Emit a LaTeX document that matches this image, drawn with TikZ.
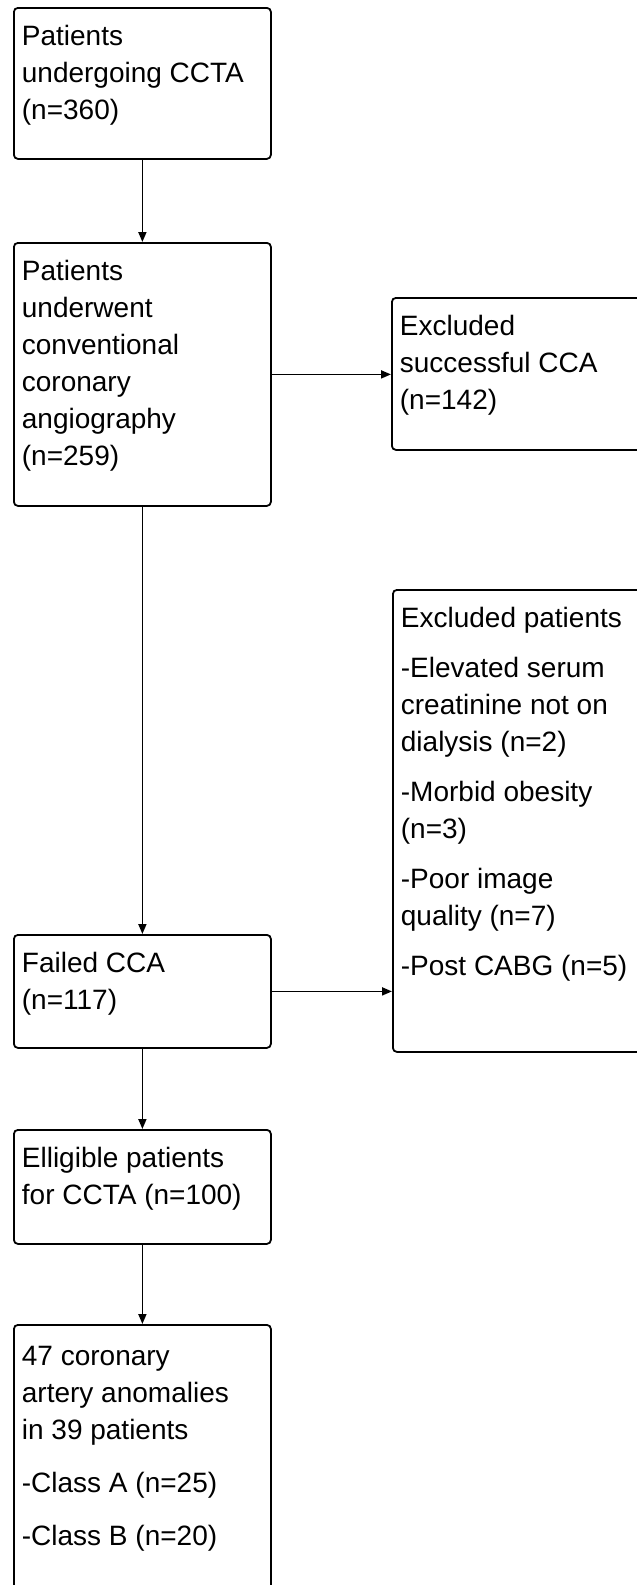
\documentclass[tikz,border=0pt]{standalone}
\usepackage{fontspec}
\setmainfont{Liberation Sans}
\usetikzlibrary{arrows.meta,calc}
\newcommand{\boxtext}[4][12pt]{\parbox[c][#2][t]{#3}{\fontsize{28}{37}\selectfont\vspace*{#1}\strut#4}}
\tikzset{
  flowbox/.style={draw=black, line width=1.8pt, rounded corners=4pt, inner xsep=8pt, inner ysep=0pt, anchor=north west, fill=white},
  flowarrow/.style={draw=black, line width=1.8pt, -{Stealth[length=10pt,width=8pt,inset=0pt]}}
}
\begin{document}
\begin{tikzpicture}[x=1pt,y=-1pt]
\clip (0,0) rectangle (637,1585);
\fill[white] (0,0) rectangle (637,1585);
\node[flowbox] (a) at (13,7) {\boxtext{151pt}{241pt}{Patients\\undergoing CCTA\\(n=360)}};
\node[flowbox] (b) at (13,242) {\boxtext{263pt}{241pt}{Patients\\underwent\\conventional\\coronary\\angiography\\(n=259)}};
\node[flowbox] (c) at (391,297) {\boxtext{152pt}{300pt}{Excluded\\successful CCA\\(n=142)}};
\node[flowbox] (d) at (392,589) {\boxtext{462pt}{300pt}{Excluded patients\\[13pt]-Elevated serum\\creatinine not on\\dialysis (n=2)\\[13pt]-Morbid obesity\\(n=3)\\[13pt]-Poor image\\quality (n=7)\\[13pt]-Post CABG (n=5)}};
\node[flowbox] (e) at (13,934) {\boxtext{113pt}{241pt}{Failed CCA\\(n=117)}};
\node[flowbox] (f) at (13,1129) {\boxtext{114pt}{241pt}{Elligible patients\\for CCTA (n=100)}};
\node[flowbox] (g) at (13,1324) {\boxtext[15pt]{300pt}{241pt}{47 coronary\\artery anomalies\\in 39 patients\\[16pt]-Class A (n=25)\\[16pt]-Class B (n=20)}};
\draw[flowarrow] (a.south) -- (b.north);
\draw[flowarrow] (b.east) -- (b.east -| c.west);
\draw[flowarrow] (b.south) -- (e.north);
\draw[flowarrow] (e.east) -- (e.east -| d.west);
\draw[flowarrow] (e.south) -- (f.north);
\draw[flowarrow] (f.south) -- (g.north);
\end{tikzpicture}
\end{document}
